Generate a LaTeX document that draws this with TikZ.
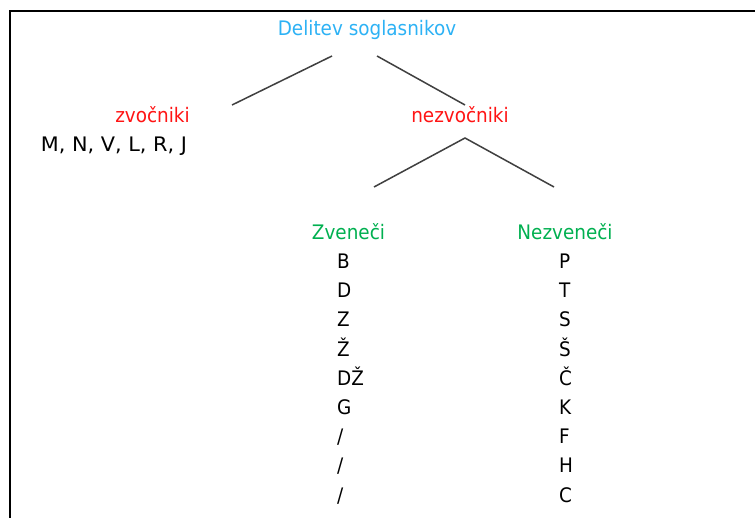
\documentclass[tikz,border=0pt]{standalone}
\usepackage{fontspec}
\setmainfont[FakeStretch=0.92]{DejaVu Sans}
\definecolor{titleblue}{RGB}{45,178,245}
\definecolor{catred}{RGB}{255,20,20}
\definecolor{subgreen}{RGB}{0,176,80}
\begin{document}
\begin{tikzpicture}[x=1pt,y=-1pt,
  lbl/.style={inner sep=0pt,anchor=base,font=\fontsize{20}{24}\selectfont},
  letter/.style={inner sep=0pt,anchor=base west,font=\fontsize{20}{24}\selectfont},
  branch/.style={draw=black!75,line width=1.5pt},
  frame/.style={draw=black,line width=1.8pt}]
\useasboundingbox (0,0) rectangle (755,518);
\fill[white] (0,0) rectangle (755,518);
\coordinate (fa) at (755,11);
\coordinate (fb) at (10,11);
\coordinate (fc) at (10,518);
\draw[frame] (fa) -- (fb) -- (fc);

\node[lbl,text=titleblue] (root) at (367,35.5) {Delitev soglasnikov};
\node[lbl,text=catred] (zv) at (152.5,122.5) {zvočniki};
\node[lbl] (zvlist) at (114,151.5) {\addfontfeature{FakeStretch=1.04}M, N, V, L, R, J};
\node[lbl,text=catred] (nz) at (460,122.5) {nezvočniki};
\node[lbl,text=subgreen] (zven) at (348.5,239.5) {Zveneči};
\node[lbl,text=subgreen] (nzven) at (565,239.5) {Nezveneči};

\coordinate (r1) at (332,56);
\coordinate (r2) at (377,56);
\coordinate (l1) at (232,105);
\coordinate (n1) at (465,105);
\coordinate (n2) at (465,138);
\coordinate (z1) at (374,187);
\coordinate (z2) at (554,187);
\draw[branch] (r1) -- (l1);
\draw[branch] (r2) -- (n1);
\draw[branch] (z1) -- (n2) -- (z2);

\foreach \t [count=\i] in {B,D,Z,Ž,DŽ,G,/,/,/}
  \node[letter] (a\i) at (337,{268.5+29.2*(\i-1)}) {\t};
\foreach \t [count=\i] in {P,T,S,Š,Č,K,F,H,C}
  \node[letter] (b\i) at (559,{268.5+29.2*(\i-1)}) {\t};
\end{tikzpicture}
\end{document}
